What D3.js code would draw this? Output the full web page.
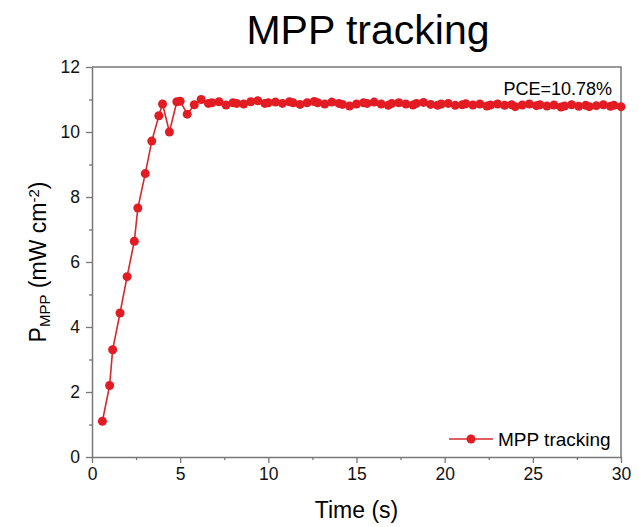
<!DOCTYPE html>
<html>
<head>
<meta charset="utf-8">
<script src="https://cdn.jsdelivr.net/npm/d3@7"></script>
<style>
  body { margin: 0; background: #fff; }
  svg { font-family: "Liberation Sans", Arial, sans-serif; }
</style>
</head>
<body>
<div id="chart"></div>
<script>
// time (s) and P_MPP (mW cm-2)
const times = [0.59, 1.0, 1.17, 1.59, 1.99, 2.4, 2.6, 3.02, 3.39, 3.79, 4.0, 4.39, 4.81, 5.0, 5.4, 5.8, 6.19,
  6.6, 6.8, 7.2, 7.6, 8.0, 8.2, 8.6, 9.0, 9.4, 9.8, 10.0, 10.4, 10.8, 11.2, 11.4, 11.8, 12.2, 12.6, 12.8,
  13.2, 13.6, 14.0, 14.2, 14.6, 15.0, 15.4, 15.6, 16.0, 16.4, 16.8, 17.0, 17.4, 17.8, 18.2, 18.4, 18.8,
  19.2, 19.6, 19.8, 20.2, 20.6, 21.0, 21.2, 21.6, 22.0, 22.4, 22.6, 23.0, 23.4, 23.8, 24.0, 24.4, 24.8,
  25.2, 25.4, 25.8, 26.2, 26.6, 26.8, 27.2, 27.6, 28.0, 28.2, 28.6, 29.0, 29.4, 29.6, 30.0];
const power = [1.1, 2.2, 3.3, 4.43, 5.55, 6.64, 7.66, 8.72, 9.72, 10.5, 10.86, 10.0, 10.93, 10.95, 10.55, 10.84, 11.0,
  10.88, 10.9, 10.93, 10.83, 10.9, 10.88, 10.86, 10.93, 10.96, 10.88, 10.9, 10.92, 10.88, 10.93, 10.9, 10.85, 10.9, 10.94, 10.9,
  10.86, 10.92, 10.88, 10.85, 10.8, 10.86, 10.9, 10.88, 10.92, 10.86, 10.82, 10.88, 10.9, 10.86, 10.83, 10.88, 10.91,
  10.85, 10.82, 10.86, 10.88, 10.82, 10.84, 10.87, 10.83, 10.86, 10.8, 10.83, 10.86, 10.82, 10.84, 10.78, 10.83, 10.86,
  10.81, 10.84, 10.8, 10.83, 10.77, 10.8, 10.84, 10.79, 10.82, 10.78, 10.81, 10.84, 10.79, 10.82, 10.78];

const xMajor = [0, 5, 10, 15, 20, 25, 30];
const xMinor = [2.5, 7.5, 12.5, 17.5, 22.5, 27.5];
const yMajor = [0, 2, 4, 6, 8, 10, 12];
const yMinor = [1, 3, 5, 7, 9, 11];

const chartTitle = 'MPP tracking';
const seriesName = 'MPP tracking';
const pceLabel = 'PCE=10.78%';

const width = 639, height = 527;
const margin = { left: 92, right: 18, top: 67, bottom: 70 };

const svg = d3.select('#chart').append('svg')
  .attr('width', width)
  .attr('height', height);

const x = d3.scaleLinear().domain([0, 30]).range([margin.left, width - margin.right]);
const y = d3.scaleLinear().domain([0, 12]).range([height - margin.bottom, margin.top]);

const axisColor = '#777';

// frame (top + right)
svg.append('path')
  .attr('d', `M${x(0)},${y(12)}H${x(30)}V${y(0)}`)
  .attr('fill', 'none')
  .attr('stroke', axisColor)
  .attr('stroke-width', 1.5);

function styleAxis(g) {
  g.select('.domain').attr('stroke', axisColor).attr('stroke-width', 1.5);
  g.selectAll('.tick line').attr('stroke', axisColor).attr('stroke-width', 1.3);
  g.selectAll('.tick text').attr('fill', '#111').style('font-size', '17.5px');
}

svg.append('g')
  .attr('transform', `translate(0,${y(0)})`)
  .call(d3.axisBottom(x).tickValues(xMajor).tickSize(6).tickSizeOuter(0).tickPadding(5))
  .call(styleAxis);

svg.append('g')
  .attr('transform', `translate(0,${y(0)})`)
  .call(d3.axisBottom(x).tickValues(xMinor).tickSize(3).tickFormat('').tickSizeOuter(0))
  .call(g => g.select('.domain').remove())
  .call(g => g.selectAll('.tick line').attr('stroke', axisColor).attr('stroke-width', 1.3));

svg.append('g')
  .attr('transform', `translate(${x(0)},0)`)
  .call(d3.axisLeft(y).tickValues(yMajor).tickSize(6).tickSizeOuter(0).tickPadding(6))
  .call(styleAxis);

svg.append('g')
  .attr('transform', `translate(${x(0)},0)`)
  .call(d3.axisLeft(y).tickValues(yMinor).tickSize(3).tickFormat('').tickSizeOuter(0))
  .call(g => g.select('.domain').remove())
  .call(g => g.selectAll('.tick line').attr('stroke', axisColor).attr('stroke-width', 1.3));

// title
svg.append('text')
  .attr('x', 368).attr('y', 44)
  .attr('text-anchor', 'middle')
  .style('font-size', '41px')
  .text(chartTitle);

// axis titles
svg.append('text')
  .attr('x', (x(0) + x(30)) / 2).attr('y', 518)
  .attr('text-anchor', 'middle')
  .style('font-size', '23px')
  .text('Time (s)');

const yTitle = svg.append('text')
  .attr('transform', `translate(46,${(y(0) + y(12)) / 2}) rotate(-90)`)
  .attr('text-anchor', 'middle')
  .style('font-size', '23px');
yTitle.append('tspan').text('P');
yTitle.append('tspan').attr('baseline-shift', '-25%').style('font-size', '15px').text('MPP');
yTitle.append('tspan').text(' (mW cm');
yTitle.append('tspan').attr('baseline-shift', '45%').style('font-size', '15px').text('-2');
yTitle.append('tspan').text(')');

// data
const data = times.map((t, i) => ({ t, p: power[i] }));
const lineColor = '#d42a2c';
const dotColor = '#e31b23';

svg.append('path')
  .datum(data)
  .attr('fill', 'none')
  .attr('stroke', lineColor)
  .attr('stroke-width', 1.6)
  .attr('d', d3.line().x(d => x(d.t)).y(d => y(d.p)));

svg.selectAll('.dot')
  .data(data)
  .enter().append('circle')
  .attr('class', 'dot')
  .attr('cx', d => x(d.t))
  .attr('cy', d => y(d.p))
  .attr('r', 4.5)
  .attr('fill', dotColor);

// PCE annotation
svg.append('text')
  .attr('x', 612).attr('y', 95)
  .attr('text-anchor', 'end')
  .style('font-size', '18px')
  .text(pceLabel);

// legend
const legend = svg.append('g').attr('transform', 'translate(449,439)');
legend.append('line')
  .attr('x1', 0).attr('x2', 44)
  .attr('stroke', lineColor).attr('stroke-width', 1.6);
legend.append('circle').attr('cx', 22).attr('r', 4.5).attr('fill', dotColor);
legend.append('text')
  .attr('x', 49).attr('y', 6.5)
  .style('font-size', '19px')
  .text(seriesName);
</script>
</body>
</html>
